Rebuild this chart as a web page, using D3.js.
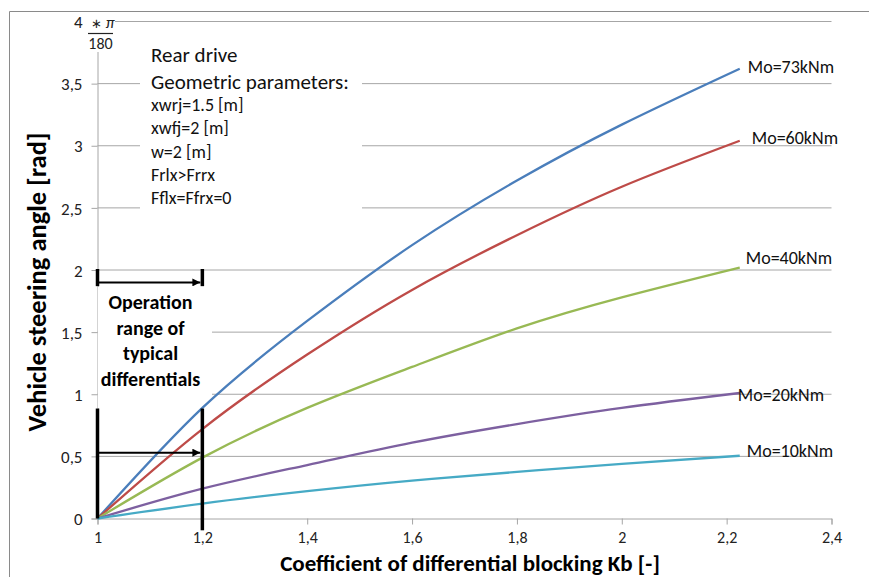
<!DOCTYPE html>
<html>
<head>
<meta charset="utf-8">
<script src="https://cdn.jsdelivr.net/npm/d3@7"></script>
<style>
  html, body { margin: 0; padding: 0; background: #fff; }
  svg { display: block; font-family: Carlito, Lato, "Open Sans", sans-serif; }
</style>
</head>
<body>
<div id="chart"></div>
<script>
// values
const kb = [1, 1.2, 1.4, 1.6, 1.8, 2.0, 2.225]
const mo73 = [0, 0.89, 1.59, 2.2, 2.72, 3.17, 3.62]
const mo60 = [0, 0.72, 1.32, 1.84, 2.28, 2.67, 3.04]
const mo40 = [0, 0.49, 0.89, 1.22, 1.53, 1.78, 2.02]
const mo20 = [0, 0.24, 0.43, 0.61, 0.76, 0.89, 1.01]
const mo10 = [0, 0.12, 0.22, 0.305, 0.375, 0.44, 0.505]

const seriesNames = ["Mo=73kNm", "Mo=60kNm", "Mo=40kNm", "Mo=20kNm", "Mo=10kNm"]
const seriesValues = [mo73, mo60, mo40, mo20, mo10]

const xTicks = [1, 1.2, 1.4, 1.6, 1.8, 2, 2.2, 2.4]
const yTicks = [0, 0.5, 1, 1.5, 2, 2.5, 3, 3.5, 4]

const infoLines = ["xwrj=1.5 [m]", "xwfj=2 [m]", "w=2 [m]", "Frlx>Frrx", "Fflx=Ffrx=0"]
const rangeLines = ["Operation", "range of", "typical", "differentials"]

// layout / styling
const colors = ["#4a7ebb", "#be4b48", "#98b954", "#7d60a0", "#46aac5"]
const labelOffsets = [[8, -2], [12, -3], [6, -10], [-2, 2], [7, -5]]

const width = 869, height = 577
const svg = d3.select("#chart").append("svg")
  .attr("width", width)
  .attr("height", height)

const x = d3.scaleLinear().domain([1, 2.4]).range([97.5, 831.5])
const y = d3.scaleLinear().domain([0, 4]).range([518.5, 21.5])

const loc = d3.formatLocale({decimal: ",", thousands: ".", grouping: [3], currency: ["", ""]})
const fmt = loc.format("~g")

// outer frame (only left and top are visible)
svg.append("path")
  .attr("d", `M9.5,${height} V11.5 H${width}`)
  .attr("fill", "none")
  .attr("stroke", "#8a8a8a")

// horizontal gridlines
svg.append("g")
  .selectAll("line")
  .data(yTicks.filter(d => d > 0))
  .join("line")
  .attr("x1", x(1)).attr("x2", x(2.4))
  .attr("y1", d => y(d)).attr("y2", d => y(d))
  .attr("stroke", "#a6a6a6")
  .attr("stroke-width", 1)

// axes
const xAxis = svg.append("g")
  .attr("transform", `translate(0,${y(0)})`)
  .call(d3.axisBottom(x).tickValues(xTicks).tickFormat(fmt).tickSize(6).tickPadding(7))
const yAxis = svg.append("g")
  .attr("transform", `translate(${x(1)},0)`)
  .call(d3.axisLeft(y).tickValues(yTicks).tickFormat(fmt).tickSize(6).tickPadding(9))

for (const ax of [xAxis, yAxis]) {
  ax.select(".domain").attr("stroke", "#a6a6a6")
  ax.selectAll(".tick line").attr("stroke", "#a6a6a6")
  ax.selectAll(".tick text")
    .attr("fill", "#222")
    .style("font-size", "17px")
    .style("font-family", "Carlito, Lato, sans-serif")
}
xAxis.selectAll(".tick text").style("font-size", "16px")
yAxis.selectAll(".tick text").attr("dy", "0.36em")

// "* pi / 180" note next to the top tick
const piNote = svg.append("g")
piNote.append("rect")
  .attr("x", 86).attr("y", 12).attr("width", 29).attr("height", 40)
  .attr("fill", "#fff")
piNote.append("text")
  .attr("x", 91).attr("y", 28)
  .style("font-size", "16px")
  .attr("fill", "#222")
  .html('<tspan font-size="13px">∗</tspan> <tspan font-style="italic">π</tspan>')
piNote.append("line")
  .attr("x1", 88).attr("x2", 113).attr("y1", 33.5).attr("y2", 33.5)
  .attr("stroke", "#222").attr("stroke-width", 1.2)
piNote.append("text")
  .attr("x", 100.5).attr("y", 49)
  .attr("text-anchor", "middle")
  .style("font-size", "16px")
  .attr("fill", "#222")
  .text("180")

// parameters box
const info = svg.append("g")
info.append("rect")
  .attr("x", 140).attr("y", 38).attr("width", 222).attr("height", 178)
  .attr("fill", "#fff")
info.append("text")
  .attr("x", 151).attr("y", 62)
  .style("font-size", "21px").attr("fill", "#111")
  .text("Rear drive")
info.append("text")
  .attr("x", 151).attr("y", 89)
  .style("font-size", "21px").attr("fill", "#111")
  .text("Geometric parameters:")
info.selectAll("text.line")
  .data(infoLines)
  .join("text")
  .attr("class", "line")
  .attr("x", 151)
  .attr("y", (d, i) => 111 + i * 23.3)
  .style("font-size", "18px").attr("fill", "#111")
  .text(d => d)

// operation range box
const range = svg.append("g")
range.append("rect")
  .attr("x", 98).attr("y", 287).attr("width", 114).attr("height", 121)
  .attr("fill", "#fff")
range.selectAll("text")
  .data(rangeLines)
  .join("text")
  .attr("x", 150.5)
  .attr("y", (d, i) => 309 + i * 25.5)
  .attr("text-anchor", "middle")
  .style("font-size", "20px")
  .style("font-weight", "700")
  .attr("fill", "#000")
  .text(d => d)

// curves
const line = d3.line()
  .x((d, i) => x(kb[i]))
  .y(d => y(d))
  .curve(d3.curveNatural)

svg.append("g")
  .selectAll("path")
  .data(seriesValues)
  .join("path")
  .attr("d", d => line(d))
  .attr("fill", "none")
  .attr("stroke", (d, i) => colors[i])
  .attr("stroke-width", 2.3)

svg.append("g")
  .selectAll("text")
  .data(seriesValues)
  .join("text")
  .attr("x", (d, i) => x(kb[kb.length - 1]) + labelOffsets[i][0])
  .attr("y", (d, i) => y(d[d.length - 1]) + labelOffsets[i][1])
  .attr("dy", "0.36em")
  .style("font-size", "18px")
  .attr("fill", "#111")
  .text((d, i) => seriesNames[i])

// operation range markers
const ann = svg.append("g")
  .attr("stroke", "#000")
  .attr("fill", "none")

svg.append("defs").append("marker")
  .attr("id", "arrow")
  .attr("viewBox", "0 0 10 10")
  .attr("refX", 10).attr("refY", 5)
  .attr("markerWidth", 4).attr("markerHeight", 4)
  .attr("orient", "auto")
  .append("path")
  .attr("d", "M0,0 L10,5 L0,10 Z")
  .attr("fill", "#000")

ann.append("line")
  .attr("x1", x(1)).attr("x2", x(1))
  .attr("y1", y(2) - 1).attr("y2", y(1.87))
  .attr("stroke-width", 3.5)
ann.append("line")
  .attr("x1", x(1.2)).attr("x2", x(1.2))
  .attr("y1", y(2) - 1).attr("y2", y(1.87))
  .attr("stroke-width", 3.5)
ann.append("line")
  .attr("x1", x(1)).attr("x2", x(1.2) - 2)
  .attr("y1", y(1.9)).attr("y2", y(1.9))
  .attr("stroke-width", 2)
  .attr("marker-end", "url(#arrow)")

ann.append("line")
  .attr("x1", x(1)).attr("x2", x(1))
  .attr("y1", y(0.885)).attr("y2", y(0))
  .attr("stroke-width", 3.5)
ann.append("line")
  .attr("x1", x(1.2)).attr("x2", x(1.2))
  .attr("y1", y(0.885)).attr("y2", y(-0.095))
  .attr("stroke-width", 3.5)
ann.append("line")
  .attr("x1", x(1)).attr("x2", x(1.2) - 2)
  .attr("y1", y(0.53)).attr("y2", y(0.53))
  .attr("stroke-width", 2)
  .attr("marker-end", "url(#arrow)")

// axis titles
svg.append("text")
  .attr("x", 470).attr("y", 571)
  .attr("text-anchor", "middle")
  .style("font-size", "23px")
  .style("font-weight", "700")
  .attr("fill", "#000")
  .text("Coefficient of differential blocking Kb [-]")

svg.append("text")
  .attr("transform", "translate(46,282) rotate(-90)")
  .attr("text-anchor", "middle")
  .style("font-size", "26.5px")
  .style("font-weight", "700")
  .attr("fill", "#000")
  .text("Vehicle steering angle [rad]")
</script>
</body>
</html>
